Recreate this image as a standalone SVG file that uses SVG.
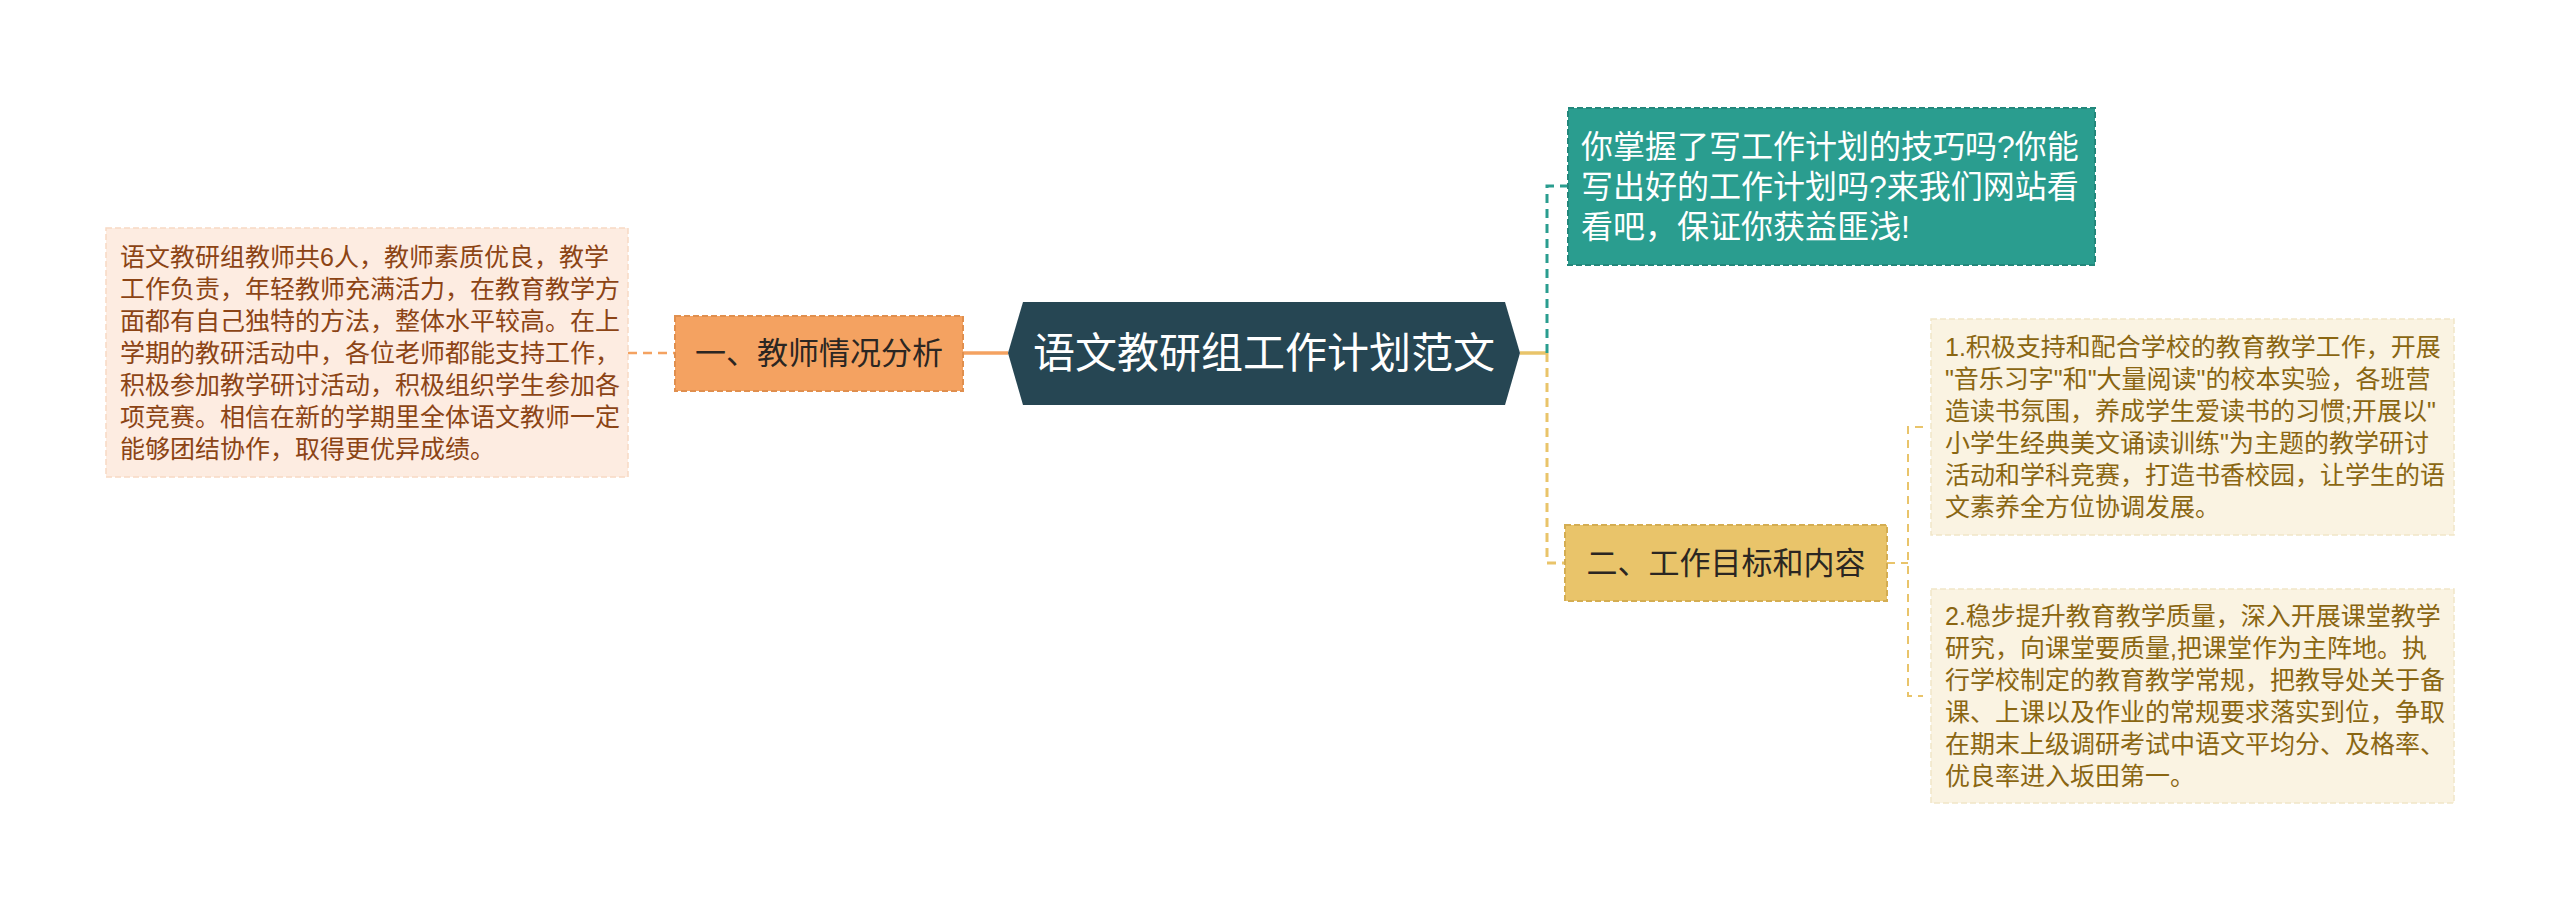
<svg xmlns="http://www.w3.org/2000/svg" width="2560" height="913" viewBox="0 0 2560 913">
<style>
text{font-family:"Liberation Sans","Noto Sans CJK SC",sans-serif;dominant-baseline:central}
.c{stroke-linecap:butt;fill:none}
.dl{fill:#fdece1;stroke:#f7d9c4;stroke-width:1.5;stroke-dasharray:6 3}
.dr{fill:#faf3e2;stroke:#f1e6c8;stroke-width:1.5;stroke-dasharray:6 3}
.tl{font-size:25px;fill:#8c4415}
.tr{font-size:25px;fill:#8a6612}
.sub{font-size:31px;fill:#2b2622;text-anchor:middle}
</style>
<rect width="2560" height="913" fill="#ffffff"/>
<g id="connectors">
<path class="c" d="M628,353 H675" stroke="#f4a261" stroke-width="2.5" stroke-dasharray="9 6"/>
<path class="c" d="M963,353 H1008" stroke="#f4a261" stroke-width="3.5"/>
<path class="c" d="M1520,353 H1547" stroke="#e9c46a" stroke-width="3.5"/>
<path class="c" d="M1547,353 V186 H1568" stroke="#2a9d8f" stroke-width="3" stroke-dasharray="9 6"/>
<path class="c" d="M1547,353 V563 H1565" stroke="#e9c46a" stroke-width="3" stroke-dasharray="9 6"/>
<path class="c" d="M1887,563 H1908" stroke="#e9c46a" stroke-width="2" stroke-dasharray="8 6"/>
<path class="c" d="M1923,427 H1908 V696 H1923" stroke="#e9c46a" stroke-width="2" stroke-dasharray="8 6"/>
</g>
<g id="root">
<polygon points="1008,353 1023,302 1505,302 1520,353 1505,405 1023,405" fill="#264653"/>
<text x="1264" y="353" font-size="42" fill="#ffffff" text-anchor="middle">语文教研组工作计划范文</text>
</g>
<g id="node-teacher">
<rect x="675" y="316" width="288" height="75" fill="#f4a261" stroke="#e08f4e" stroke-width="2" stroke-dasharray="6 3"/>
<text class="sub" x="819" y="353">一、教师情况分析</text>
</g>
<g id="detail-teacher">
<rect class="dl" x="106" y="228" width="522" height="249"/>
<text class="tl" x="120" y="257">语文教研组教师共6人，教师素质优良，教学</text>
<text class="tl" x="120" y="289">工作负责，年轻教师充满活力，在教育教学方</text>
<text class="tl" x="120" y="321">面都有自己独特的方法，整体水平较高。在上</text>
<text class="tl" x="120" y="353">学期的教研活动中，各位老师都能支持工作，</text>
<text class="tl" x="120" y="385">积极参加教学研讨活动，积极组织学生参加各</text>
<text class="tl" x="120" y="417">项竞赛。相信在新的学期里全体语文教师一定</text>
<text class="tl" x="120" y="449">能够团结协作，取得更优异成绩。</text>
</g>
<g id="node-tip">
<rect x="1568" y="108" width="527" height="157" fill="#2a9d8f" stroke="#23877b" stroke-width="2" stroke-dasharray="6 3"/>
<text x="1581" y="147" font-size="32" fill="#ffffff">你掌握了写工作计划的技巧吗?你能</text>
<text x="1581" y="187" font-size="32" fill="#ffffff">写出好的工作计划吗?来我们网站看</text>
<text x="1581" y="227" font-size="32" fill="#ffffff">看吧，保证你获益匪浅!</text>
</g>
<g id="node-goals">
<rect x="1565" y="525" width="322" height="76" fill="#e9c46a" stroke="#d4ad52" stroke-width="2" stroke-dasharray="6 3"/>
<text class="sub" x="1726" y="563">二、工作目标和内容</text>
</g>
<g id="detail-goal-1">
<rect class="dr" x="1931" y="319" width="523" height="216"/>
<text class="tr" x="1945" y="347">1.积极支持和配合学校的教育教学工作，开展</text>
<text class="tr" x="1945" y="379">"音乐习字"和"大量阅读"的校本实验，各班营</text>
<text class="tr" x="1945" y="411">造读书氛围，养成学生爱读书的习惯;开展以"</text>
<text class="tr" x="1945" y="443">小学生经典美文诵读训练"为主题的教学研讨</text>
<text class="tr" x="1945" y="475">活动和学科竞赛，打造书香校园，让学生的语</text>
<text class="tr" x="1945" y="507">文素养全方位协调发展。</text>
</g>
<g id="detail-goal-2">
<rect class="dr" x="1931" y="589" width="523" height="214"/>
<text class="tr" x="1945" y="616">2.稳步提升教育教学质量，深入开展课堂教学</text>
<text class="tr" x="1945" y="648">研究，向课堂要质量,把课堂作为主阵地。执</text>
<text class="tr" x="1945" y="680">行学校制定的教育教学常规，把教导处关于备</text>
<text class="tr" x="1945" y="712">课、上课以及作业的常规要求落实到位，争取</text>
<text class="tr" x="1945" y="744">在期末上级调研考试中语文平均分、及格率、</text>
<text class="tr" x="1945" y="776">优良率进入坂田第一。</text>
</g>
</svg>
